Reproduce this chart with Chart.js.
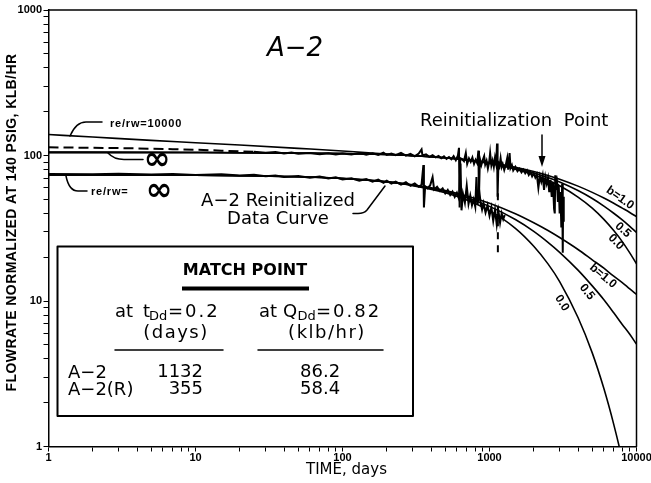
<!DOCTYPE html>
<html><head><meta charset="utf-8">
<script src="https://cdn.jsdelivr.net/npm/chart.js@4/dist/chart.umd.min.js"></script>
<style>html,body{margin:0;padding:0;background:#fff}canvas{display:block}</style>
</head><body>
<canvas id="c" width="651" height="483" style="width:651px;height:483px"></canvas>
<script>
// ---- tick labels ----
const xTickLabels = [1, 10, 100, 1000, 10000];
const yTickLabels = [1, 10, 100, 1000];

// ---- type curves (time, days) ----
const curveT = [1, 10, 100, 200, 300, 500, 700, 1000, 1500, 2000, 2500, 3000, 4000, 5000, 6000, 7000, 8000, 9000, 10000];
// A-2 match (upper set)
const upperB0  = [105.1, 104.9, 103.3, 101.5, 99.7, 96.2, 92.9, 88.1, 80.6, 73.8, 67.6, 61.9, 51.8, 43.5, 36.4, 30.5, 25.6, 21.4, 18.0];
const upperB05 = [105.1, 104.9, 103.3, 101.5, 99.7, 96.4, 93.2, 88.7, 81.9, 75.9, 70.5, 65.7, 57.4, 50.6, 44.9, 40.1, 36.1, 32.6, 29.6];
const upperB1  = [105.1, 104.9, 103.3, 101.5, 99.8, 96.6, 93.5, 89.3, 83.1, 77.7, 72.9, 68.7, 61.6, 55.8, 51.0, 47.0, 43.5, 40.6, 38.0];
// A-2(R) match (lower set)
const lowerB0  = [73.5, 73.1, 69.5, 65.7, 62.1, 55.5, 49.5, 41.8, 31.6, 23.8, 18.0, 13.6, 7.7, 4.4, 2.5, 1.42, 0.81, 0.46, 0.26];
const lowerB05 = [73.5, 73.1, 69.5, 65.9, 62.5, 56.5, 51.3, 44.7, 36.3, 30.1, 25.3, 21.6, 16.3, 12.7, 10.2, 8.3, 6.9, 5.9, 5.05];
const lowerB1  = [73.5, 73.1, 69.6, 66.1, 62.9, 57.4, 52.7, 47.0, 39.8, 34.5, 30.5, 27.3, 22.6, 19.2, 16.8, 14.8, 13.4, 12.1, 11.1];
// transient stem re/rw = 10000
const transT = [1, 2, 5, 10, 20, 50, 100, 150, 200, 300];
const transQ = [139.4, 134, 127, 122.5, 118, 112, 107.5, 104.3, 102.2, 99.8];

// ---- A-2 field data (upper) ----
const earlyT = [1, 2, 3, 5, 7, 10, 15, 20, 25];
const earlyQ = [113.8, 113, 112.4, 111.4, 110.6, 109.6, 108, 106.8, 106];
const dataT = [25,30,35,40,45,50,60,70,80,90,100,115,130,145,160,175,190,200,215,230,250,270,290,310,330,345,350,370,390,410,430,450,470,490,510,530,550,570,590,610,620,626,632,650,670,690,705,725,745,765,785,805,825,840,848,860,880,900,920,935,955,975,995,1010,1030,1050,1070,1090,1110,1125,1135,1150,1170,1190,1210,1230,1260,1290,1320,1340,1370,1390,1420,1450,1500,1550,1600,1650,1700,1750,1800,1850,1900,1950,2000,2050,2100,2150,2200,2250,2300,2350,2400,2450,2500,2550,2600,2650,2700,2750,2780,2800,2830,2880,2920,2960,3000,3040,3080,3120,3150,3170,3200];
const dataQ = [106,104.5,105.5,103.2,104.8,102.8,104.2,102.2,103.6,101.6,103.2,101.8,104.2,101.2,103.4,100.8,104.6,100.8,103.2,100.4,104.2,99.8,102.6,98.8,103.2,110,100,101.8,97.8,100.6,97.2,99.4,95.8,98.6,94.8,97.6,94.2,99,92.8,100,113,44,96,94.5,91.5,104,87.5,95.5,90.5,97,87.5,93.5,88.5,108,52,95,86,93,99,86.5,92,81.5,90,104,85.5,92.5,83.5,96.5,87.5,121,52,89,84.5,95.5,83.5,87.5,79.5,86,96,80,104,82,86,79,83.5,78,81,76.5,80,75.5,79,73.5,77,72,75.5,70.5,74,60,72,66,73,58,71,64,70,56,68,52,66,43,40,73,58,64,48,62,40,56,32,64,21.5,52,35];
const dropT = [1140, 1140];
const dropQ = [55, 20];

// ---- A-2 reinitialized data (lower) ----
const reT = [1,2,3,5,7,10,15,20,25,30,35,40,50,60,70,80,90,100,115,130,145,160,175,190,200,215,230,250,270,290,310,330,345,355,358,365,380,395,410,420,440,460,480,500,520,540,560,580,600,620,635,645,660,680,700,720,740,760,780,800,815,830,850,870,890,910,940,970,1000,1030,1060,1090,1120,1150,1180,1210,1240,1270];
const reQ = [74.6,74.2,74.8,74,74.5,73.5,74.2,72.8,73.8,72,73,71.2,72.4,70.2,71.6,69.4,70.8,68.4,69.8,67,69,66,68.2,65,67.2,64.2,66.2,63,65.5,62,64.2,61,63,86,44,61.5,59.5,62.5,71,58.5,61,57,59.5,55,58,53.5,56.5,52,55.5,50.5,88,42,54.5,47.5,62,46.5,53,45.5,50,44.5,71,46,58,47.5,42.5,47,40.5,45.5,38.5,44,35.5,42.5,33.5,41.5,34.5,40,36.5,39];

const pts = (ts, qs) => ts.map((t, i) => ({x: t, y: qs[i]}));
const curve = {showLine: true, pointRadius: 0, borderColor: '#000', borderWidth: 1.6, fill: false, cubicInterpolationMode: 'monotone'};
const obs = {showLine: true, pointRadius: 0, borderColor: '#000', borderWidth: 2, fill: false, tension: 0};

const datasets = [
  {label: 're/rw=10000', data: pts(transT, transQ), ...curve},
  {label: 'A-2 b=0.0', data: pts(curveT, upperB0), ...curve},
  {label: 'A-2 b=0.5', data: pts(curveT, upperB05), ...curve},
  {label: 'A-2 b=1.0', data: pts(curveT, upperB1), ...curve},
  {label: 'A-2(R) b=0.0', data: pts(curveT, lowerB0), ...curve},
  {label: 'A-2(R) b=0.5', data: pts(curveT, lowerB05), ...curve},
  {label: 'A-2(R) b=1.0', data: pts(curveT, lowerB1), ...curve},
  {label: 'A-2 data (early)', data: pts(earlyT, earlyQ), ...obs, borderDash: [10, 5]},
  {label: 'A-2 data', data: pts(dataT, dataQ), ...obs},
  {label: 'A-2 drop', data: pts(dropT, dropQ), ...obs, borderDash: [7, 6]},
  {label: 'A-2 Reinitialized Data Curve', data: pts(reT, reQ), ...obs}
];

function logTicks(maxExp) {
  const t = [];
  for (let e = 0; e < maxExp; e++) for (let m = 1; m < 10; m++) t.push({value: m * Math.pow(10, e)});
  t.push({value: Math.pow(10, maxExp)});
  return t;
}

const tickFont = {family: '"Liberation Sans"', size: 11, weight: 'bold'};

const annotations = {
  id: 'annotations',
  beforeDraw(chart) {
    const c = chart.ctx;
    c.save(); c.fillStyle = '#fff'; c.fillRect(0, 0, chart.width, chart.height); c.restore();
  },
  afterDraw(chart) {
    const c = chart.ctx, a = chart.chartArea;
    c.save();
    c.strokeStyle = '#000'; c.fillStyle = '#000'; c.lineCap = 'round'; c.lineJoin = 'round';
    // frame top / right
    c.lineWidth = 1.5;
    c.beginPath(); c.moveTo(a.left, a.top); c.lineTo(a.right, a.top); c.lineTo(a.right, a.bottom); c.stroke();

    const T = (s, x, y, font, align = 'left', sp = 0) => {
      c.font = font; c.letterSpacing = sp + 'px'; c.textAlign = align; c.textBaseline = 'middle'; c.fillText(s, x, y);
    };
    const R = (s, x, y, deg, font) => {
      c.save(); c.translate(x, y); c.rotate(deg * Math.PI / 180); T(s, 0, 0, font, 'center'); c.restore();
    };
    const F18 = '18px "DejaVu Sans"';
    const LB = 'bold 11px "Liberation Sans"';
    const INF = 'bold 32px "DejaVu Sans"';

    // axis titles
    c.save(); c.translate(12.5, 222.5); c.rotate(-Math.PI / 2);
    T('FLOWRATE NORMALIZED AT 140 PSIG, KLB/HR', 0, 0, 'bold 14px "Liberation Sans"', 'center', 0.4);
    c.restore();
    T('TIME, days', 346.5, 470, '15px "DejaVu Sans"', 'center');

    // title
    T('A\u22122', 295, 49, 'italic 26px "DejaVu Sans"', 'center');

    // leaders
    c.lineWidth = 1.5;
    c.beginPath(); c.moveTo(70, 136); c.quadraticCurveTo(76, 122, 86, 122); c.lineTo(102, 122); c.stroke();
    T('re/rw=10000', 110, 123.5, LB, 'left', 0.8);

    c.beginPath(); c.moveTo(108, 153); c.quadraticCurveTo(114, 159.5, 124, 159.5); c.lineTo(143, 159.5); c.stroke();
    T('\u221E', 157, 160.5, INF, 'center');

    c.beginPath(); c.moveTo(66, 176); c.quadraticCurveTo(69, 191, 78, 191); c.lineTo(87, 191); c.stroke();
    T('re/rw=', 91, 192, LB, 'left', 0.8);
    T('\u221E', 159, 192, INF, 'center');

    T('A\u22122 Reinitialized', 278, 201.5, F18, 'center');
    T('Data Curve', 278, 219.5, F18, 'center');
    c.beginPath(); c.moveTo(385, 186); c.lineTo(367, 210); c.quadraticCurveTo(364, 213.5, 358, 213.5); c.lineTo(353, 213.5); c.stroke();

    T('Reinitialization  Point', 420, 121.5, F18, 'left');
    c.beginPath(); c.moveTo(542, 135); c.lineTo(542, 158); c.stroke();
    c.beginPath(); c.moveTo(538.5, 156); c.lineTo(545.5, 156); c.lineTo(542, 167); c.closePath(); c.fill();

    // curve labels
    const CL = 'bold 12px "Liberation Sans"';
    R('b=1.0', 620, 198, 35, CL);
    R('0.5', 623, 230, 42, CL);
    R('0.0', 616, 242, 46, CL);
    R('b=1.0', 603, 276, 40, CL);
    R('0.5', 587, 292, 52, CL);
    R('0.0', 562, 303, 58, CL);

    // match point box
    c.lineWidth = 2;
    c.strokeRect(57.5, 246.5, 355.5, 169.5);
    T('MATCH POINT', 245, 271, 'bold 16px "DejaVu Sans"', 'center');
    c.fillRect(182, 286.5, 127, 4);
    T('at', 115, 312, F18); T('t', 143, 312, F18); T('Dd', 149, 316.5, '13px "DejaVu Sans"'); T('=0.2', 168, 312, F18, 'left', 2);
    T('at', 259, 312, F18); T('Q', 283, 312, F18); T('Dd', 297.5, 316.5, '13px "DejaVu Sans"'); T('=0.82', 316, 312, F18, 'left', 2);
    T('(days)', 176, 333, F18, 'center', 1.5);
    T('(klb/hr)', 327, 333, F18, 'center', 1.5);
    c.lineWidth = 1.5;
    c.beginPath(); c.moveTo(115, 350); c.lineTo(223, 350); c.moveTo(258, 350); c.lineTo(383, 350); c.stroke();
    T('A\u22122', 68, 373, F18); T('1132', 203, 372.5, F18, 'right'); T('86.2', 300, 372.5, F18);
    T('A\u22122(R)', 68, 390.5, F18); T('355', 203, 389.5, F18, 'right'); T('58.4', 300, 389.5, F18);
    c.restore();
  }
};

new Chart(document.getElementById('c'), {
  type: 'scatter',
  data: {datasets},
  plugins: [annotations],
  options: {
    responsive: false, devicePixelRatio: 1, animation: false, events: [],
    layout: {padding: {left: 0, top: 10, right: 14.5, bottom: 0}},
    plugins: {legend: {display: false}, tooltip: {enabled: false}, title: {display: false}},
    scales: {
      x: {
        type: 'logarithmic', min: 1, max: 10000,
        grid: {display: true, drawOnChartArea: false, drawTicks: true, tickLength: 5, color: '#000', lineWidth: 1},
        border: {display: true, color: '#000', width: 1.5},
        ticks: {autoSkip: false, maxRotation: 0, minRotation: 0, padding: 0, color: '#000', font: tickFont,
          callback: (v) => xTickLabels.includes(v) ? String(v) : ''},
        afterBuildTicks: (s) => { s.ticks = logTicks(4); },
        afterFit: (s) => { s.height = 36.5; s.paddingLeft = 0; s.paddingRight = 0; }
      },
      y: {
        type: 'logarithmic', min: 1, max: 1000,
        grid: {display: true, drawOnChartArea: false, drawTicks: true, tickLength: 5, color: '#000', lineWidth: 1},
        border: {display: true, color: '#000', width: 1.5},
        ticks: {autoSkip: false, padding: 1.5, color: '#000', font: tickFont,
          callback: (v) => yTickLabels.includes(v) ? String(v) : ''},
        afterBuildTicks: (s) => { s.ticks = logTicks(3); },
        afterFit: (s) => { s.width = 48.5; s.paddingTop = 0; s.paddingBottom = 0; }
      }
    }
  }
});
</script>
</body></html>
